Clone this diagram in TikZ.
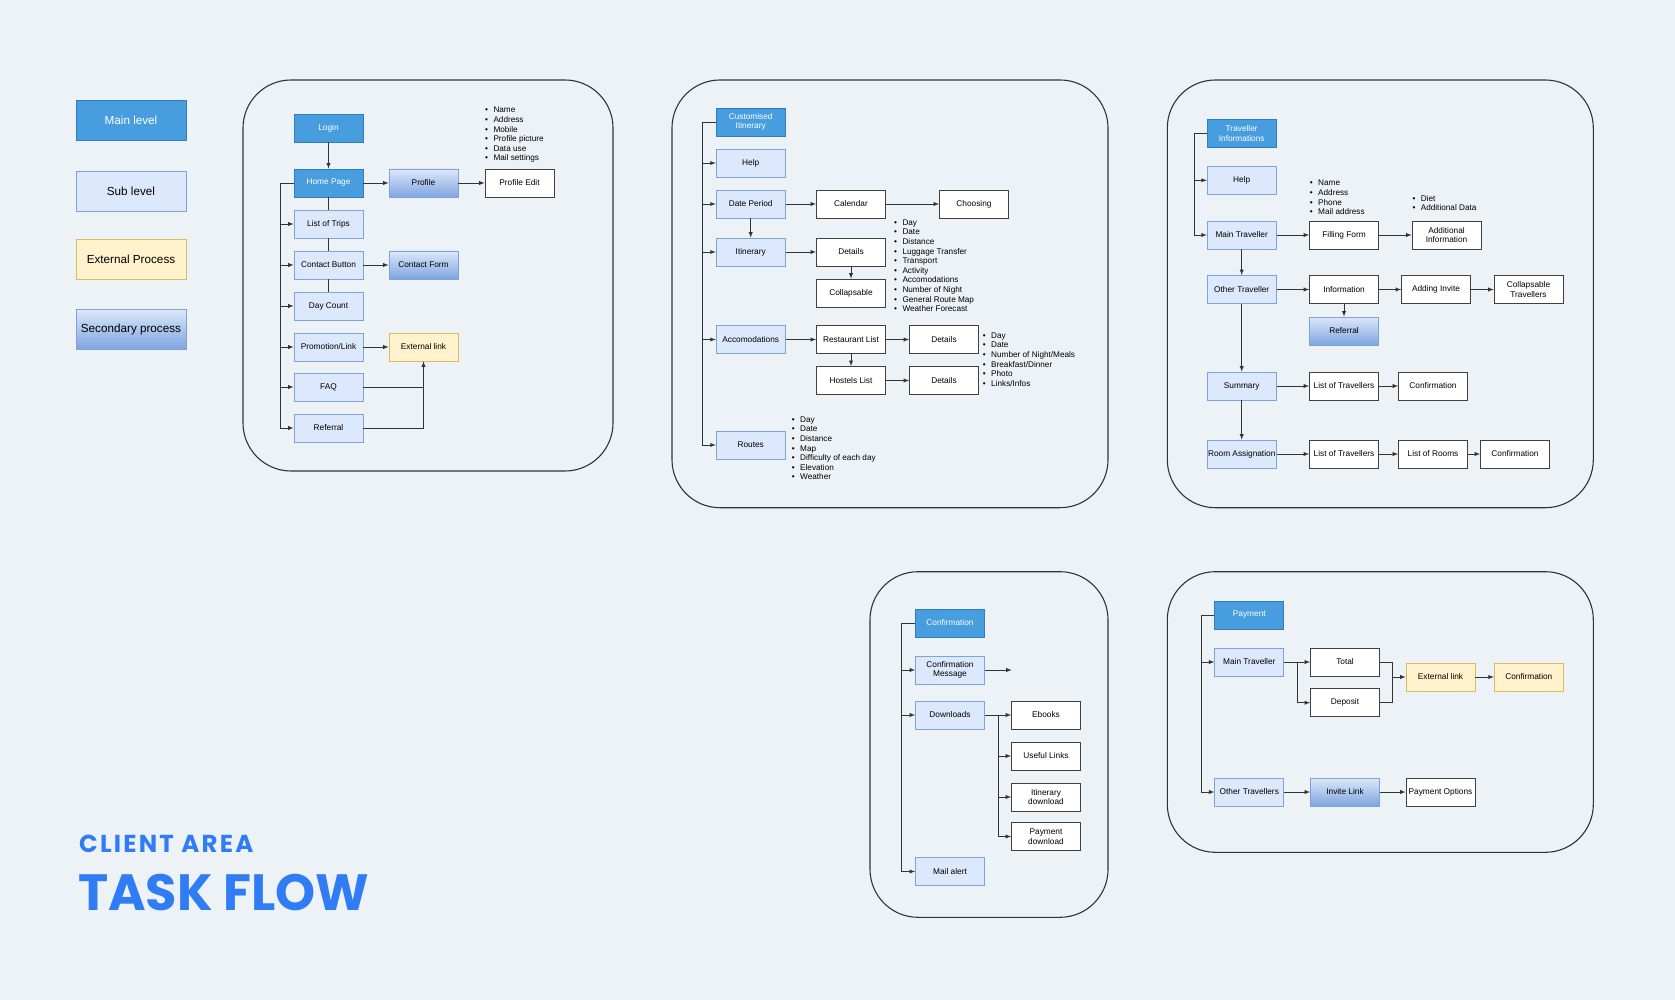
\documentclass[tikz,border=0pt]{standalone}
\usepackage{fontspec}
\setmainfont{Liberation Sans}
\newfontfamily\titlefont{Poppins}
\newfontfamily\areafont[LetterSpace=9]{Poppins}
\usetikzlibrary{positioning,arrows,calc}
\definecolor{bg}{HTML}{EDF2F7}
\definecolor{mainfill}{HTML}{489DDF}
\definecolor{mainline}{HTML}{2F7DC2}
\definecolor{subfill}{HTML}{DCE8FB}
\definecolor{subline}{HTML}{7EA3DA}
\definecolor{extfill}{HTML}{FFF2CC}
\definecolor{extline}{HTML}{D9BC62}
\definecolor{secbottom}{HTML}{7EA5DF}
\definecolor{plainline}{HTML}{404040}
\definecolor{linecol}{HTML}{333333}
\definecolor{titleblue}{HTML}{2F7CF4}
\tikzset{every picture/.style={>=latex}}
\tikzset{box/.style={draw, minimum width=69pt, minimum height=28pt, inner sep=1pt,
    align=center, line width=0.8pt, font=\fontsize{8.3}{9.6}\selectfont}}
\tikzset{main box/.style={box, fill=mainfill, draw=mainline, text=white}}
\tikzset{sub box/.style={box, fill=subfill, draw=subline}}
\tikzset{ext box/.style={box, fill=extfill, draw=extline}}
\tikzset{second box/.style={box, top color=subfill, bottom color=secbottom, draw=subline}}
\tikzset{plain box/.style={box, fill=white, draw=plainline}}
\tikzset{key box/.style={minimum width=110pt, minimum height=40pt, font=\fontsize{11.7}{14}\selectfont}}
\tikzset{link/.style={line width=0.9pt, draw=linecol}}
\tikzset{panel/.style={draw=linecol, line width=1.1pt, rounded corners=48pt}}
\tikzset{notes/.style={anchor=north west, inner sep=0pt, align=left, font=\fontsize{8.2}{9.6}\selectfont}}
\newcommand{\itm}[1]{\makebox[8.3pt][l]{\textbullet}#1}

\begin{document}
\begin{tikzpicture}[x=1pt,y=-1pt]
  \path[use as bounding box, fill=bg] (0,0) rectangle (1675,1000);

  % legend
  \node[main box, key box] (keymain) at (131,120) {Main level};
  \node[sub box, key box] (keysub) at (131,191) {Sub level};
  \node[ext box, key box] (keyext) at (131,259) {External Process};
  \node[second box, key box] (keysec) at (131,329) {Secondary process};

  % title
  \node[anchor=base west, inner sep=0pt, text=titleblue,
    font=\areafont\bfseries\fontsize{24.5}{24.5}\selectfont] (areatitle) at (79,852.7) {CLIENT AREA};
  \node[anchor=base west, inner sep=0pt, text=titleblue,
    font=\titlefont\bfseries\fontsize{51}{51}\selectfont] (flowtitle) at (78,910.7) {TASK FLOW};

  % home page panel
  \draw[panel] (243,80) rectangle (613,471);
  \node[main box] (login) at (328.5,128) {Login};
  \node[main box] (home) at (328.5,183) {Home Page};
  \node[second box] (profile) at (423.5,183) {Profile};
  \node[plain box] (profedit) at (519.5,183) {Profile Edit};
  \node[sub box] (trips) at (328.5,224) {List of Trips};
  \node[sub box] (contact) at (328.5,265) {Contact Button};
  \node[second box] (cform) at (423.5,265) {Contact Form};
  \node[sub box] (daycount) at (328.5,306) {Day Count};
  \node[sub box] (promo) at (328.5,347) {Promotion/Link};
  \node[ext box] (extlink) at (423.5,347) {External link};
  \node[sub box] (faq) at (328.5,387) {FAQ};
  \node[sub box] (referral) at (328.5,428) {Referral};
  \node[notes] (profnotes) at (485,107) {\itm{Name}\\\itm{Address}\\\itm{Mobile}\\
    \itm{Profile picture}\\\itm{Data use}\\\itm{Mail settings}};
  \draw[link,->] (login) -- (home);
  \draw[link,->] (home) -- (profile);
  \draw[link,->] (profile) -- (profedit);
  \draw[link] (home) -- (trips);
  \draw[link] (trips) -- (contact);
  \draw[link] (contact) -- (daycount);
  \draw[link,->] (contact) -- (cform);
  \draw[link,->] (promo) -- (extlink);
  \draw[link] (faq.east) -- (faq.east -| extlink.south);
  \draw[link,->] (referral.east) -| (extlink.south);
  \coordinate (homebus) at ($(home.west)+(-13,0)$);
  \draw[link] (home.west) -- (homebus);
  \draw[link,->] (homebus) |- (trips.west);
  \draw[link,->] (homebus) |- (contact.west);
  \draw[link,->] (homebus) |- (daycount.west);
  \draw[link,->] (homebus) |- (promo.west);
  \draw[link,->] (homebus) |- (faq.west);
  \draw[link,->] (homebus) |- (referral.west);

  % customised itinerary panel
  \draw[panel] (672,80) rectangle (1108,507.7);
  \node[main box] (custom) at (750.7,122) {Customised\\Itinerary};
  \node[sub box] (help) at (750.7,163) {Help};
  \node[sub box] (dates) at (750.7,204) {Date Period};
  \node[plain box] (calendar) at (851,204) {Calendar};
  \node[plain box] (choosing) at (974,204) {Choosing};
  \node[sub box] (itin) at (750.7,252) {Itinerary};
  \node[plain box] (itindetails) at (851,252) {Details};
  \node[plain box] (collapse) at (851,293) {Collapsable};
  \node[sub box] (accom) at (750.7,339.5) {Accomodations};
  \node[plain box] (restaurants) at (851,339.5) {Restaurant List};
  \node[plain box] (restdetails) at (944,339.5) {Details};
  \node[plain box] (hostels) at (851,380.5) {Hostels List};
  \node[plain box] (hosteldetails) at (944,380.5) {Details};
  \node[sub box] (routes) at (750.7,445) {Routes};
  \node[notes] (itinnotes) at (894,219.5) {\itm{Day}\\\itm{Date}\\\itm{Distance}\\
    \itm{Luggage Transfer}\\\itm{Transport}\\\itm{Activity}\\\itm{Accomodations}\\
    \itm{Number of Night}\\\itm{General Route Map}\\\itm{Weather Forecast}};
  \node[notes] (accomnotes) at (982.7,332.5) {\itm{Day}\\\itm{Date}\\
    \itm{Number of Night/Meals}\\\itm{Breakfast/Dinner}\\\itm{Photo}\\\itm{Links/Infos}};
  \node[notes] (routenotes) at (791.7,416.5) {\itm{Day}\\\itm{Date}\\\itm{Distance}\\
    \itm{Map}\\\itm{Difficulty of each day}\\\itm{Elevation}\\\itm{Weather}};
  \draw[link,->] (dates) -- (calendar);
  \draw[link,->] (calendar) -- (choosing);
  \draw[link,->] (dates) -- (itin);
  \draw[link,->] (itin) -- (itindetails);
  \draw[link,->] (itindetails) -- (collapse);
  \draw[link,->] (accom) -- (restaurants);
  \draw[link,->] (restaurants) -- (restdetails);
  \draw[link,->] (restaurants) -- (hostels);
  \draw[link,->] (hostels) -- (hosteldetails);
  \coordinate (custombus) at ($(custom.west)+(-13,0)$);
  \draw[link] (custom.west) -- (custombus);
  \draw[link,->] (custombus) |- (help.west);
  \draw[link,->] (custombus) |- (dates.west);
  \draw[link,->] (custombus) |- (itin.west);
  \draw[link,->] (custombus) |- (accom.west);
  \draw[link,->] (custombus) |- (routes.west);

  % traveller informations panel
  \draw[panel] (1167.3,80) rectangle (1593.3,507.7);
  \node[main box] (travinfo) at (1241.7,133.7) {Traveller\\Informations};
  \node[sub box] (travhelp) at (1241.7,180.3) {Help};
  \node[sub box] (maintrav) at (1241.7,235) {Main Traveller};
  \node[plain box] (filling) at (1344,235) {Filling Form};
  \node[plain box] (addinfo) at (1446.5,235) {Additional\\Information};
  \node[sub box] (othertrav) at (1241.7,289.5) {Other Traveller};
  \node[plain box] (information) at (1344,289.5) {Information};
  \node[plain box] (addinvite) at (1436,289.5) {Adding Invite};
  \node[plain box] (colltrav) at (1528.5,289.5) {Collapsable\\Travellers};
  \node[second box] (travreferral) at (1344,331) {Referral};
  \node[sub box] (summary) at (1241.7,386) {Summary};
  \node[plain box] (sumlist) at (1344,386) {List of Travellers};
  \node[plain box] (sumconfirm) at (1433,386) {Confirmation};
  \node[sub box] (rooms) at (1241.7,454) {Room Assignation};
  \node[plain box] (roomlist) at (1344,454) {List of Travellers};
  \node[plain box] (roomnames) at (1433,454) {List of Rooms};
  \node[plain box] (roomconfirm) at (1515,454) {Confirmation};
  \node[notes] (formnotes) at (1309.7,180) {\itm{Name}\\\itm{Address}\\\itm{Phone}\\
    \itm{Mail address}};
  \node[notes] (addnotes) at (1412.3,195) {\itm{Diet}\\\itm{Additional Data}};
  \draw[link,->] (maintrav) -- (filling);
  \draw[link,->] (filling) -- (addinfo);
  \draw[link,->] (maintrav) -- (othertrav);
  \draw[link,->] (othertrav) -- (information);
  \draw[link,->] (information) -- (addinvite);
  \draw[link,->] (addinvite) -- (colltrav);
  \draw[link,->] (information) -- (travreferral);
  \draw[link,->] (othertrav) -- (summary);
  \draw[link,->] (summary) -- (sumlist);
  \draw[link,->] (sumlist) -- (sumconfirm);
  \draw[link,->] (summary) -- (rooms);
  \draw[link,->] (rooms) -- (roomlist);
  \draw[link,->] (roomlist) -- (roomnames);
  \draw[link,->] (roomnames) -- (roomconfirm);
  \coordinate (travbus) at ($(travinfo.west)+(-12.6,0)$);
  \draw[link] (travinfo.west) -- (travbus);
  \draw[link,->] (travbus) |- (travhelp.west);
  \draw[link,->] (travbus) |- (maintrav.west);

  % confirmation panel
  \draw[panel] (870,571.7) rectangle (1108,917.3);
  \node[main box] (confirm) at (950,623) {Confirmation};
  \node[sub box] (confmsg) at (950,670) {Confirmation\\Message};
  \node[sub box] (downloads) at (950,715) {Downloads};
  \node[plain box] (ebooks) at (1046,715) {Ebooks};
  \node[plain box] (useful) at (1046,756) {Useful Links};
  \node[plain box] (itindl) at (1046,797) {Itinerary\\download};
  \node[plain box] (paydl) at (1046,836.5) {Payment\\download};
  \node[sub box] (mailalert) at (950,871.5) {Mail alert};
  \coordinate (msgend) at (1011.7,670);
  \draw[link,->] (confmsg) -- (msgend);
  \coordinate (dlbus) at ($(downloads.east)+(14,0)$);
  \draw[link] (downloads.east) -- (dlbus);
  \draw[link,->] (dlbus) -- (ebooks.west);
  \draw[link,->] (dlbus) |- (useful.west);
  \draw[link,->] (dlbus) |- (itindl.west);
  \draw[link,->] (dlbus) |- (paydl.west);
  \coordinate (confbus) at ($(confirm.west)+(-13.4,0)$);
  \draw[link] (confirm.west) -- (confbus);
  \draw[link,->] (confbus) |- (confmsg.west);
  \draw[link,->] (confbus) |- (downloads.west);
  \draw[link,->] (confbus) |- (mailalert.west);

  % payment panel
  \draw[panel] (1167.3,571.7) rectangle (1593.3,852.3);
  \node[main box] (payment) at (1249.3,615) {Payment};
  \node[sub box] (paymain) at (1249.3,662) {Main Traveller};
  \node[plain box] (total) at (1345,662) {Total};
  \node[plain box] (deposit) at (1345,702.7) {Deposit};
  \node[ext box] (payext) at (1440.5,677) {External link};
  \node[ext box] (payconfirm) at (1528.8,677) {Confirmation};
  \node[sub box] (payothers) at (1249.3,792) {Other Travellers};
  \node[second box] (invite) at (1345,792) {Invite Link};
  \node[plain box] (payopts) at (1440.5,792) {Payment Options};
  \coordinate (paysplit) at ($(paymain.east)+(13,0)$);
  \draw[link] (paymain.east) -- (paysplit);
  \draw[link,->] (paysplit) -- (total.west);
  \draw[link,->] (paysplit) |- (deposit.west);
  \coordinate (payjoin) at (1392.3,677);
  \draw[link] (total.east) -| (payjoin);
  \draw[link] (deposit.east) -| (payjoin);
  \draw[link,->] (payjoin) -- (payext.west);
  \draw[link,->] (payext) -- (payconfirm);
  \draw[link,->] (payothers) -- (invite);
  \draw[link,->] (invite) -- (payopts);
  \coordinate (paybus) at ($(payment.west)+(-13.3,0)$);
  \draw[link] (payment.west) -- (paybus);
  \draw[link,->] (paybus) |- (paymain.west);
  \draw[link,->] (paybus) |- (payothers.west);
\end{tikzpicture}
\end{document}
